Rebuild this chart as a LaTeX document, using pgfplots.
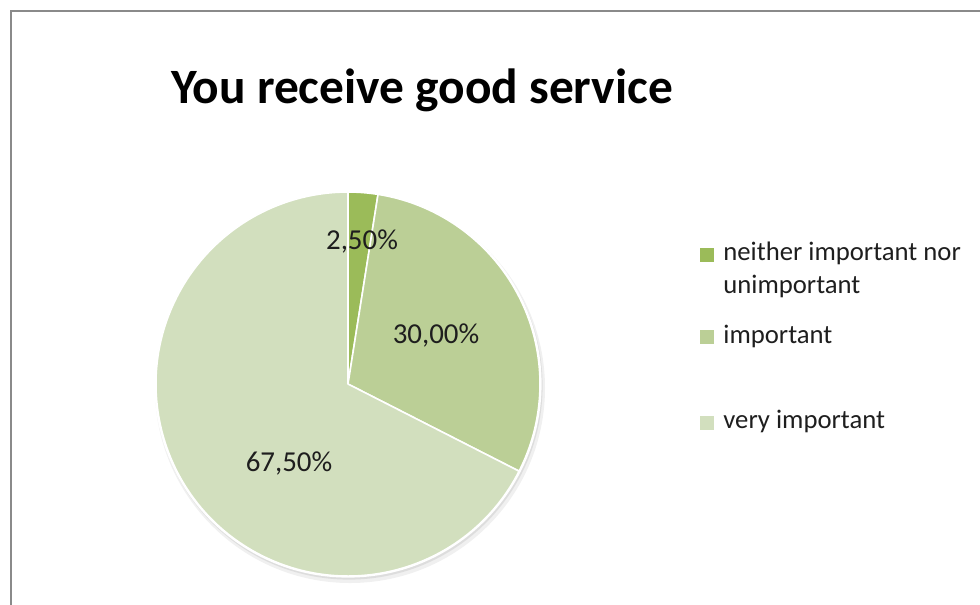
\documentclass[border=0pt]{standalone}
\usepackage{pgfplots}
\pgfplotsset{compat=1.18}
\usepackage{pgfplotstable}
\usepackage{fontspec}
\setmainfont{Carlito}
\definecolor{cA}{HTML}{9BBB59}
\definecolor{cB}{HTML}{BBCF96}
\definecolor{cC}{HTML}{D2DFBE}
\definecolor{frameC}{HTML}{8A8A8A}
\definecolor{txt}{HTML}{1E1E1E}
\pgfplotstableread{
share
2.5
30
67.5
}\piedata
\begin{document}%
\pgfplotstablegetelem{0}{share}\of\piedata\let\vA\pgfplotsretval%
\pgfplotstablegetelem{1}{share}\of\piedata\let\vB\pgfplotsretval%
\pgfplotstablegetelem{2}{share}\of\piedata\let\vC\pgfplotsretval%
\pgfmathsetmacro\aA{90-3.6*\vA}%
\pgfmathsetmacro\aB{\aA-3.6*\vB}%
\pgfmathsetmacro\aC{\aB-3.6*\vC}%
\begin{tikzpicture}
\begin{axis}[width=490bp,height=302bp,scale only axis,
  xmin=0,xmax=980,ymin=0,ymax=604,y dir=reverse,hide axis,clip=false]
% frame
\draw[frameC,line width=1bp] (axis cs:1000,11) -- (axis cs:11,11) -- (axis cs:11,640);
% title
\node[anchor=base,text=black,font=\fontsize{24.8}{28}\selectfont\bfseries] at (axis cs:422,103) {You receive good service};
% shadow
\fill[black,opacity=0.06] (axis cs:350,388) circle[radius=97.5bp];
\fill[black,opacity=0.08] (axis cs:349,386) circle[radius=96.8bp];
\fill[white] (axis cs:348,384) circle[radius=96.8bp];
% slices
\fill[cA,draw=white,line width=0.8bp,line join=round] (axis cs:348,384) -- +(90:96bp) arc[start angle=90,end angle=\aA,radius=96bp] -- cycle;
\fill[cB,draw=white,line width=0.8bp,line join=round] (axis cs:348,384) -- +(\aA:96bp) arc[start angle=\aA,end angle=\aB,radius=96bp] -- cycle;
\fill[cC,draw=white,line width=0.8bp,line join=round] (axis cs:348,384) -- +(\aB:96bp) arc[start angle=\aB,end angle=\aC,radius=96bp] -- cycle;
% data labels
\node[text=txt,font=\fontsize{14.5}{17}\selectfont] at (axis cs:362,241) {2,50\%};
\node[text=txt,font=\fontsize{14.5}{17}\selectfont] at (axis cs:436,335) {30,00\%};
\node[text=txt,font=\fontsize{14.5}{17}\selectfont] at (axis cs:289,463) {67,50\%};
% legend
\fill[cA] (axis cs:700,248) rectangle (axis cs:714,262);
\fill[cB] (axis cs:700,330) rectangle (axis cs:714,344);
\fill[cC] (axis cs:700,416) rectangle (axis cs:714,430);
\node[anchor=base west,inner sep=0pt,text=txt,font=\fontsize{13.4}{16}\selectfont] at (axis cs:723,260) {neither important nor};
\node[anchor=base west,inner sep=0pt,text=txt,font=\fontsize{13.4}{16}\selectfont] at (axis cs:723,293) {unimportant};
\node[anchor=base west,inner sep=0pt,text=txt,font=\fontsize{13.4}{16}\selectfont] at (axis cs:723,343) {important};
\node[anchor=base west,inner sep=0pt,text=txt,font=\fontsize{13.4}{16}\selectfont] at (axis cs:723,428) {very important};
\end{axis}
\pgfresetboundingbox
\useasboundingbox (current axis.south west) rectangle (current axis.north east);
\end{tikzpicture}%
\end{document}
